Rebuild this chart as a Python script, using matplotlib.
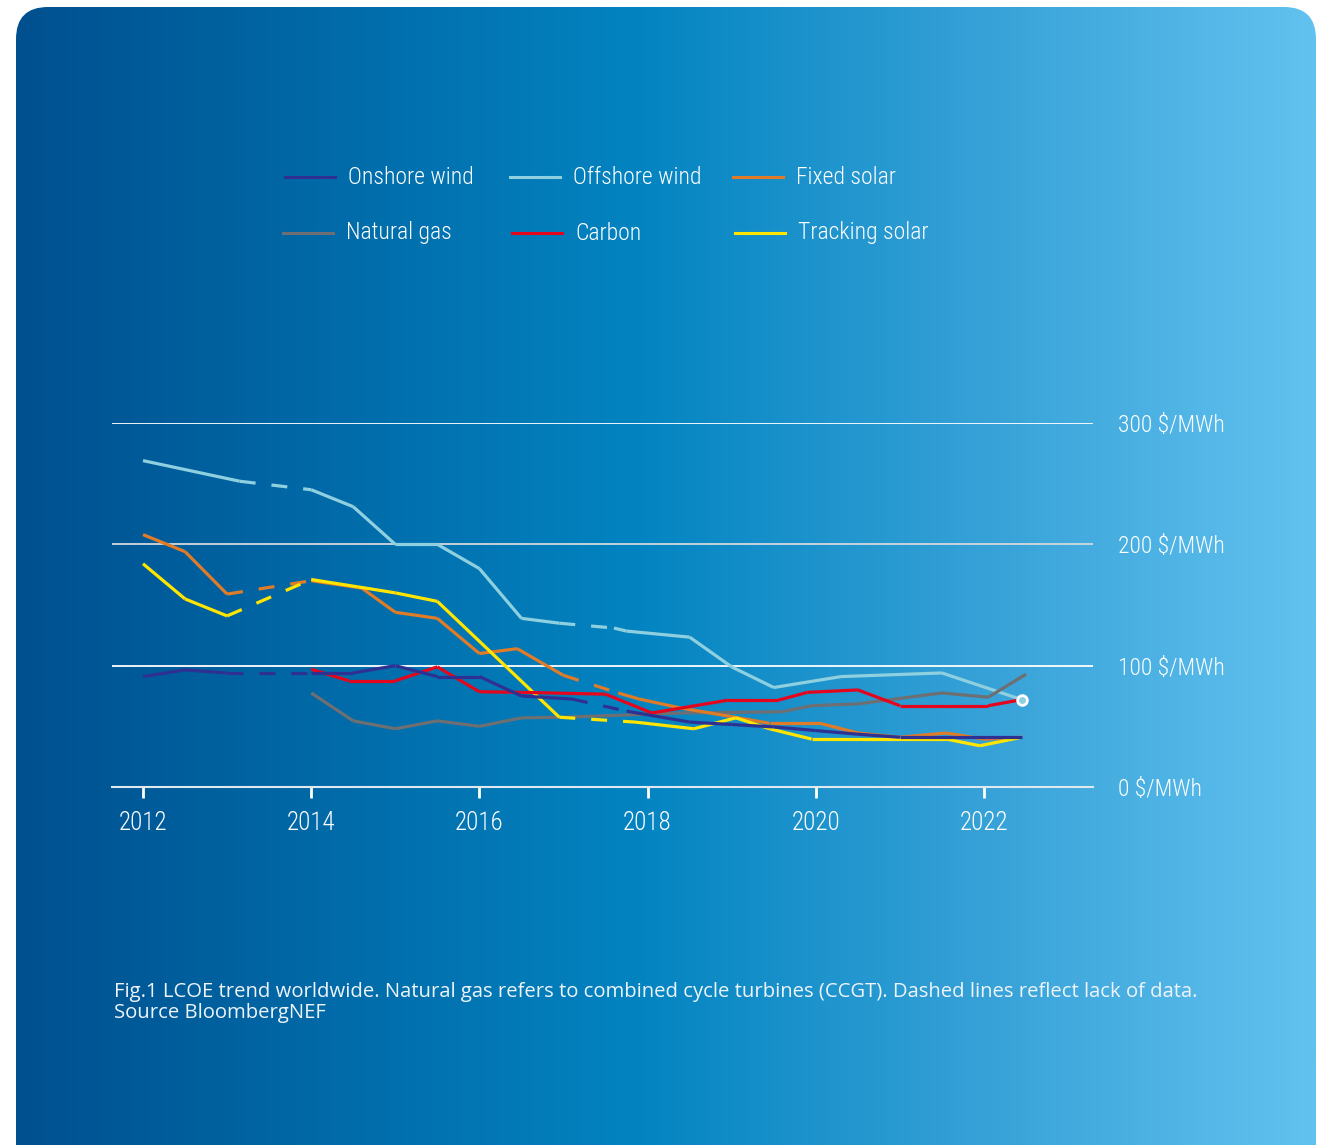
import numpy as np
import matplotlib
matplotlib.use("Agg")
import matplotlib.pyplot as plt
from matplotlib.colors import LinearSegmentedColormap
from matplotlib.patches import FancyBboxPatch
from matplotlib.lines import Line2D

COND = ["Roboto Condensed", "Open Sans Condensed", "Lato", "DejaVu Sans"]
CAPTION_FONT = ["Open Sans", "DejaVu Sans"]

# LCOE series ($/MWh); dashed = indices of segments drawn dashed (lack of data)
onshore_years = [2012, 2012.5, 2013, 2014, 2014.5, 2015, 2015.5, 2016, 2016.5, 2017.1,
                 2017.75, 2018.5, 2019, 2019.5, 2020, 2020.5, 2021, 2022.45]
onshore_vals = [91, 96.5, 94, 94, 94, 100, 91, 91, 75, 72.5,
                62.5, 53.5, 51.5, 49.5, 46.5, 43.5, 41, 41]
onshore_dashed = [2, 9]

offshore_years = [2012, 2013.15, 2014, 2014.5, 2015, 2015.5, 2016, 2016.5, 2016.95,
                  2017.6, 2017.75, 2018.5, 2019, 2019.5, 2020.3, 2021.5, 2022.45]
offshore_vals = [269, 252, 245, 231, 200, 200, 180, 139, 135,
                 131, 128.5, 123.5, 99, 82, 91, 94, 72]
offshore_dashed = [1, 8]

fixed_years = [2012, 2012.5, 2013, 2014, 2014.6, 2015, 2015.5, 2016, 2016.45, 2017,
               2017.65, 2017.9, 2018.4, 2019, 2019.45, 2020.05, 2020.5, 2021, 2021.55,
               2022, 2022.45]
fixed_vals = [208, 194, 159, 170, 164, 144, 139, 110, 114, 92,
              77.5, 72.5, 65, 58, 52.5, 52.5, 44.5, 41, 44.5,
              39.5, 41]
fixed_dashed = [2, 9]

gas_years = [2014, 2014.5, 2015, 2015.5, 2016, 2016.5, 2017, 2018.4, 2019.6, 2019.95,
             2020.5, 2021.5, 2022.05, 2022.5]
gas_vals = [77.5, 54.5, 48, 54.5, 50, 57, 57.5, 61, 62, 67,
            68.5, 77.5, 74, 93]
gas_dashed = []

carbon_years = [2014, 2014.45, 2015, 2015.5, 2016, 2016.5, 2017.5, 2018.05, 2018.95,
                2019.55, 2019.9, 2020.5, 2021, 2022.05, 2022.45]
carbon_vals = [97, 87.5, 87.5, 99, 78.5, 78, 76.5, 61, 71.5,
               71.5, 78, 80, 67, 67, 72]
carbon_dashed = []

tracking_years = [2012, 2012.5, 2013, 2014, 2014.55, 2015, 2015.5, 2016.95, 2017.85,
                  2018.55, 2019.05, 2019.45, 2019.95, 2021.55, 2021.95, 2022.45]
tracking_vals = [184, 155, 141, 171, 165, 160, 153, 57.5, 53.5,
                 48, 57, 48, 39.5, 39.5, 34, 41]
tracking_dashed = [2, 7]

x_ticks = [2012, 2014, 2016, 2018, 2020, 2022]
y_ticks = [0, 100, 200, 300]
y_labels = ["0 $/MWh", "100 $/MWh", "200 $/MWh", "300 $/MWh"]

SERIES = [
    ("Onshore wind", onshore_years, onshore_vals, onshore_dashed, "#2e3192"),
    ("Offshore wind", offshore_years, offshore_vals, offshore_dashed, "#8ed0df"),
    ("Fixed solar", fixed_years, fixed_vals, fixed_dashed, "#e07b28"),
    ("Natural gas", gas_years, gas_vals, gas_dashed, "#6e6f73"),
    ("Carbon", carbon_years, carbon_vals, carbon_dashed, "#e4061c"),
    ("Tracking solar", tracking_years, tracking_vals, tracking_dashed, "#ffe500"),
]
DRAW_ORDER = [1, 3, 2, 5, 4, 0]

W, H = 1321, 1145
fig = plt.figure(figsize=(W / 100, H / 100), dpi=100)
fig.patch.set_facecolor("white")

# background panel: horizontal gradient inside a rounded box
bg = fig.add_axes([0, 0, 1, 1])
bg.set_xlim(0, W)
bg.set_ylim(H, 0)
bg.axis("off")
cmap = LinearSegmentedColormap.from_list(
    "panel", [(0, "#00508f"), (0.48, "#0384c1"), (0.75, "#37a2d8"), (1, "#62c2ef")])
grad = np.linspace(0, 1, 512).reshape(1, -1)
img = bg.imshow(grad, cmap=cmap, extent=[16, 1316, 1180, 7], aspect="auto", zorder=0)
box = FancyBboxPatch((16, 7), 1300, 1138 + 60, boxstyle="round,pad=0,rounding_size=32",
                     transform=bg.transData, facecolor="none", edgecolor="none")
bg.add_patch(box)
img.set_clip_path(box)

# legend, two rows of three
legend_pos = [(285, 177), (510, 177), (733, 177), (283, 233), (512, 233), (735, 233)]
for (name, _, _, _, color), (lx, ly) in zip(SERIES, legend_pos):
    bg.add_line(Line2D([lx, lx + 50], [ly, ly], color=color, lw=2.2, zorder=3))
    bg.text(lx + 63, ly, name, color="white", fontsize=17, family=COND, weight="light",
            va="center", ha="left", zorder=3)

# caption
cap_kw = dict(color="#eef4fa", fontsize=14.6, family=CAPTION_FONT, va="center", ha="left")
bg.text(114, 992, "Fig.1 LCOE trend worldwide. Natural gas refers to combined cycle turbines "
        "(CCGT). Dashed lines reflect lack of data.", **cap_kw)
bg.text(114, 1013, "Source BloombergNEF", **cap_kw)

# chart area
x0, x1 = 112, 1093
y_top, y_bot = 423, 787
ax = fig.add_axes([x0 / W, (H - y_bot) / H, (x1 - x0) / W, (y_bot - y_top) / H])
ax.patch.set_alpha(0)
px_per_year = 84.1
ax.set_xlim(2012 - (143 - x0) / px_per_year, 2012 + (x1 - 143) / px_per_year)
ax.set_ylim(0, 300)

for val, col in [(100, "white"), (200, "#d4d8dc"), (300, "white")]:
    ax.axhline(val, color=col, lw=1.3, zorder=1)

for i in DRAW_ORDER:
    name, xs, ys, dashed, color = SERIES[i]
    for s in range(len(xs) - 1):
        ls = (0, (5, 5)) if s in dashed else "-"
        ax.plot(xs[s:s + 2], ys[s:s + 2], color=color, lw=2.3, ls=ls,
                solid_capstyle="butt", solid_joinstyle="miter", zorder=2, clip_on=False)

# end marker on offshore wind
ax.plot(offshore_years[-1], offshore_vals[-1], "o", ms=7, mfc="#8ed0df", mec="white",
        mew=2, zorder=5, clip_on=False)

for side in ["top", "left", "right"]:
    ax.spines[side].set_visible(False)
ax.spines["bottom"].set_color("#dfe7ef")
ax.spines["bottom"].set_linewidth(1.5)

ax.set_xticks(x_ticks)
ax.set_xticklabels([str(t) for t in x_ticks], family=COND, weight="light", fontsize=18,
                   color="white")
ax.tick_params(axis="x", direction="out", length=8, width=2, color="white", pad=9)
ax.yaxis.tick_right()
ax.set_yticks(y_ticks)
ax.set_yticklabels(y_labels, family=COND, weight="light", fontsize=17, color="white")
ax.tick_params(axis="y", length=0, pad=18)

fig.savefig("out.png", dpi=100, facecolor="white")
